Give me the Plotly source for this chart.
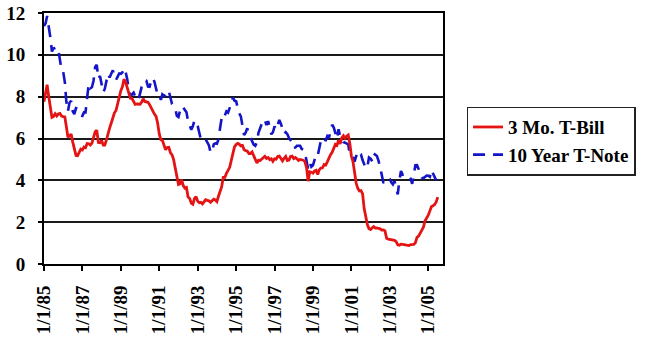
import pandas as pd
import plotly.graph_objects as go

# Monthly yields (%), starting January 1985
start_month = "1985-01-01"

tbill_3mo = [
    7.76, 8.22, 8.57, 8.00, 7.56, 7.01, 7.05, 7.18, 7.08, 7.17, 7.20, 7.07,   # 1985
    7.04, 7.03, 6.59, 6.06, 6.12, 6.21, 5.84, 5.57, 5.19, 5.18, 5.35, 5.49,   # 1986
    5.45, 5.59, 5.56, 5.76, 5.75, 5.69, 5.78, 6.00, 6.32, 6.40, 5.81, 5.80,   # 1987
    5.90, 5.69, 5.69, 5.92, 6.27, 6.50, 6.73, 7.02, 7.23, 7.34, 7.68, 8.09,   # 1988
    8.29, 8.48, 8.83, 8.70, 8.40, 8.22, 7.92, 7.91, 7.72, 7.63, 7.65, 7.64,   # 1989
    7.64, 7.74, 7.90, 7.77, 7.74, 7.73, 7.62, 7.45, 7.36, 7.17, 7.06, 6.74,   # 1990
    6.22, 5.94, 5.91, 5.65, 5.46, 5.57, 5.58, 5.33, 5.22, 4.99, 4.56, 4.07,   # 1991
    3.80, 3.84, 4.04, 3.75, 3.63, 3.66, 3.21, 3.13, 2.91, 2.86, 3.13, 3.22,   # 1992
    3.00, 2.93, 2.95, 2.87, 2.96, 3.07, 3.04, 3.02, 2.95, 3.02, 3.10, 3.06,   # 1993
    2.98, 3.25, 3.50, 3.68, 4.14, 4.14, 4.33, 4.48, 4.62, 4.95, 5.29, 5.60,   # 1994
    5.71, 5.77, 5.73, 5.65, 5.67, 5.47, 5.42, 5.40, 5.28, 5.28, 5.36, 5.14,   # 1995
    5.00, 4.83, 4.96, 4.95, 5.02, 5.09, 5.15, 5.05, 5.09, 4.99, 5.03, 4.91,   # 1996
    5.03, 5.01, 5.14, 5.16, 5.05, 4.93, 5.05, 5.14, 4.95, 4.97, 5.14, 5.16,   # 1997
    5.04, 5.09, 5.03, 4.95, 5.00, 4.98, 4.96, 4.90, 4.61, 3.96, 4.41, 4.39,   # 1998
    4.34, 4.45, 4.48, 4.28, 4.51, 4.59, 4.60, 4.76, 4.73, 4.88, 5.07, 5.23,   # 1999
    5.34, 5.57, 5.72, 5.67, 5.92, 5.74, 6.03, 6.13, 6.01, 6.11, 6.17, 5.77,   # 2000
    5.15, 4.88, 4.42, 3.87, 3.62, 3.49, 3.51, 3.36, 2.64, 2.16, 1.87, 1.69,   # 2001
    1.65, 1.73, 1.79, 1.72, 1.73, 1.70, 1.68, 1.62, 1.63, 1.58, 1.23, 1.19,   # 2002
    1.17, 1.17, 1.13, 1.13, 1.07, 0.92, 0.90, 0.95, 0.94, 0.92, 0.93, 0.90,   # 2003
    0.88, 0.93, 0.94, 0.94, 1.02, 1.27, 1.33, 1.48, 1.65, 1.76, 2.07, 2.19,   # 2004
    2.33, 2.54, 2.74, 2.78, 2.84, 2.97, 3.20,                                 # 2005
]

tnote_10yr = [
    11.38, 11.51, 11.86, 11.43, 10.85, 10.16, 10.31, 10.33, 10.37, 10.24, 9.78, 9.26,  # 1985
    9.19, 8.70, 7.78, 7.30, 7.71, 7.80, 7.30, 7.17, 7.45, 7.43, 7.25, 7.11,            # 1986
    7.08, 7.25, 7.25, 8.02, 8.61, 8.40, 8.45, 8.76, 9.42, 9.52, 8.86, 8.99,            # 1987
    8.67, 8.21, 8.37, 8.72, 9.09, 8.92, 9.06, 9.26, 8.98, 8.80, 8.96, 9.11,            # 1988
    9.09, 9.17, 9.36, 9.18, 8.86, 8.28, 8.02, 8.11, 8.19, 8.01, 7.87, 7.84,            # 1989
    8.21, 8.47, 8.59, 8.79, 8.76, 8.48, 8.47, 8.75, 8.89, 8.72, 8.39, 8.08,            # 1990
    8.09, 7.85, 8.11, 8.04, 8.07, 8.28, 8.27, 7.90, 7.65, 7.53, 7.42, 7.09,            # 1991
    7.03, 7.34, 7.54, 7.48, 7.39, 7.26, 6.84, 6.59, 6.42, 6.59, 6.87, 6.77,            # 1992
    6.60, 6.26, 5.98, 5.97, 6.04, 5.96, 5.81, 5.68, 5.36, 5.33, 5.72, 5.77,            # 1993
    5.75, 5.97, 6.48, 6.97, 7.18, 7.10, 7.30, 7.24, 7.46, 7.74, 7.96, 7.81,            # 1994
    7.78, 7.47, 7.20, 7.06, 6.63, 6.17, 6.28, 6.49, 6.20, 6.04, 5.93, 5.71,            # 1995
    5.65, 5.81, 6.27, 6.51, 6.74, 6.91, 6.87, 6.64, 6.83, 6.53, 6.20, 6.30,            # 1996
    6.58, 6.42, 6.69, 6.89, 6.71, 6.49, 6.22, 6.30, 6.21, 6.03, 5.88, 5.81,            # 1997
    5.54, 5.57, 5.65, 5.64, 5.65, 5.50, 5.46, 5.34, 4.81, 4.53, 4.83, 4.65,            # 1998
    4.72, 5.00, 5.23, 5.18, 5.54, 5.90, 5.79, 5.94, 5.92, 6.11, 6.03, 6.28,            # 1999
    6.66, 6.52, 6.26, 5.99, 6.44, 6.10, 6.05, 5.83, 5.80, 5.74, 5.72, 5.24,            # 2000
    5.16, 5.10, 4.89, 5.14, 5.39, 5.28, 5.24, 4.97, 4.73, 4.57, 4.65, 5.09,            # 2001
    5.04, 4.91, 5.28, 5.21, 5.16, 4.93, 4.65, 4.26, 3.87, 3.94, 4.05, 4.03,            # 2002
    4.05, 3.90, 3.81, 3.96, 3.57, 3.33, 3.98, 4.45, 4.27, 4.29, 4.30, 4.27,            # 2003
    4.15, 4.08, 3.83, 4.35, 4.72, 4.73, 4.50, 4.28, 4.13, 4.10, 4.19, 4.23,            # 2004
    4.22, 4.17, 4.50, 4.34, 4.14, 4.00,                                                # 2005
]

y_ticks = [0, 2, 4, 6, 8, 10, 12]
x_tick_dates = ["1985-01-01", "1987-01-01", "1989-01-01", "1991-01-01",
                "1993-01-01", "1995-01-01", "1997-01-01", "1999-01-01",
                "2001-01-01", "2003-01-01", "2005-01-01"]
x_tick_labels = ["1/1/85", "1/1/87", "1/1/89", "1/1/91", "1/1/93", "1/1/95",
                 "1/1/97", "1/1/99", "1/1/01", "1/1/03", "1/1/05"]

dates_tbill = pd.date_range(start_month, periods=len(tbill_3mo), freq="MS")
dates_tnote = pd.date_range(start_month, periods=len(tnote_10yr), freq="MS")

FONT = "Liberation Serif, Times New Roman, serif"

fig = go.Figure()
fig.add_trace(go.Scatter(
    x=dates_tnote, y=tnote_10yr, mode="lines", name="<b>10 Year T-Note</b>",
    line=dict(color="#1414c8", width=2.6, dash="12px,8px"), legendrank=2,
))
fig.add_trace(go.Scatter(
    x=dates_tbill, y=tbill_3mo, mode="lines", name="<b>3 Mo. T-Bill</b>",
    line=dict(color="#e41414", width=2.8), legendrank=1,
))

fig.update_layout(
    width=648, height=339, autosize=False,
    margin=dict(l=44, r=198, t=13, b=75),
    paper_bgcolor="white", plot_bgcolor="white",
    font=dict(family=FONT, color="black", size=17),
    showlegend=True,
    legend=dict(
        x=1.059, xanchor="left", y=0.627, yanchor="top",
        bgcolor="white", bordercolor="#222", borderwidth=1.5,
        font=dict(family=FONT, size=19, color="black"),
        itemwidth=30, tracegroupgap=0,
    ),
)

fig.update_xaxes(
    type="date",
    range=["1985-01-01", "2005-10-08"],
    tickvals=x_tick_dates,
    ticktext=[f"<b>{t}</b>" for t in x_tick_labels],
    tickangle=-90,
    ticks="outside", ticklen=5, tickwidth=2, tickcolor="black",
    ticklabelstandoff=7,
    showgrid=False, zeroline=False,
    showline=True, linecolor="black", linewidth=2, mirror=True,
    automargin=False,
    tickfont=dict(family=FONT, size=19, color="black"),
)
fig.update_yaxes(
    range=[0, 12], tickvals=y_ticks,
    ticktext=[f"<b>{v}</b>" for v in y_ticks],
    ticks="outside", ticklen=4, tickwidth=2, tickcolor="black",
    ticklabelstandoff=9,
    showgrid=True, gridcolor="#1a1a1a", gridwidth=1.6,
    zeroline=False,
    showline=True, linecolor="black", linewidth=2, mirror=True,
    automargin=False,
    tickfont=dict(family=FONT, size=19, color="black"),
)

fig.write_html("out.html")
